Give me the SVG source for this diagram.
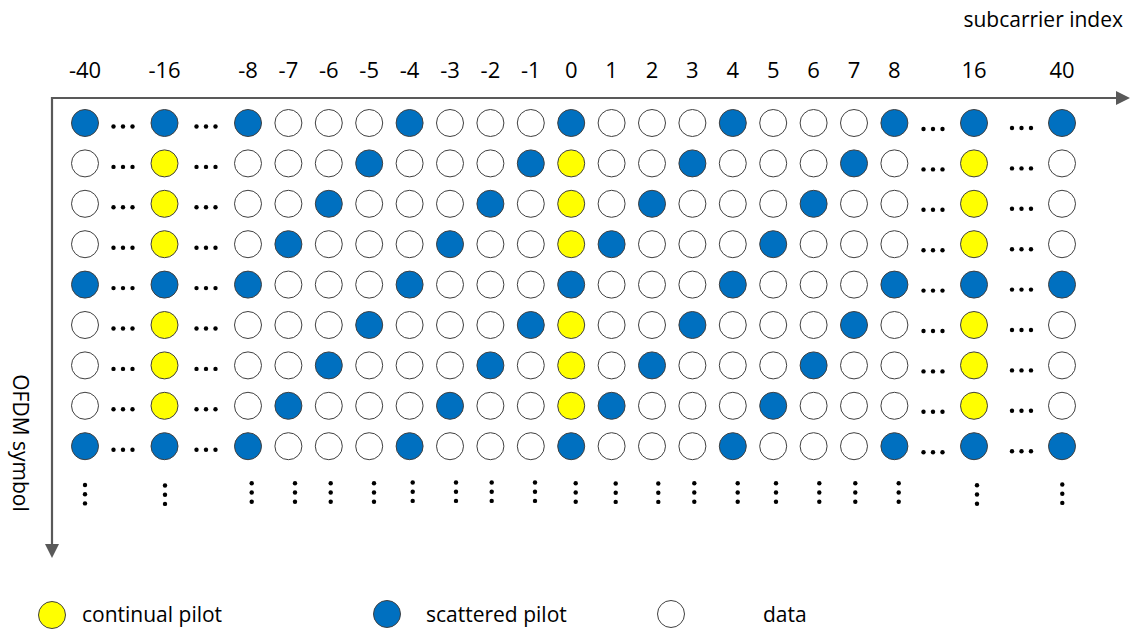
<svg xmlns="http://www.w3.org/2000/svg" width="1130" height="631" viewBox="0 0 1130 631">
<style>
.b{fill:#0070C0;stroke:#404040;stroke-width:1}
.y{fill:#FFFF00;stroke:#404040;stroke-width:1}
.w{fill:#FFFFFF;stroke:#404040;stroke-width:1}
.d{fill:#000}
.ax{stroke:#595959;stroke-width:2.2;fill:none}
.ah{fill:#595959}
text{font-family:"Open Sans","Noto Sans",sans-serif;fill:#000}
.lbl{font-size:22px;text-anchor:middle}
.leg{font-size:21px}
</style>
<rect width="1130" height="631" fill="#fff"/>
<g id="axes">
<line class="ax" x1="52" y1="98" x2="1118" y2="98"/>
<polygon class="ah" points="1130,98 1116,91 1116,105"/>
<line class="ax" x1="52" y1="97" x2="52" y2="546"/>
<polygon class="ah" points="52,558 45,544 59,544"/>
</g>
<g id="axis-labels">
<text x="1123" y="27" style="font-size:21px;text-anchor:end">subcarrier index</text>
<text transform="translate(13,443) rotate(90)" style="font-size:21px;text-anchor:middle">OFDM symbol</text>
</g>
<g id="column-labels" class="lbl">
<text class="lbl" x="85" y="78">-40</text>
<text class="lbl" x="164.5" y="78">-16</text>
<text class="lbl" x="248" y="78">-8</text>
<text class="lbl" x="288.4" y="78">-7</text>
<text class="lbl" x="328.8" y="78">-6</text>
<text class="lbl" x="369.2" y="78">-5</text>
<text class="lbl" x="409.6" y="78">-4</text>
<text class="lbl" x="450" y="78">-3</text>
<text class="lbl" x="490.4" y="78">-2</text>
<text class="lbl" x="530.8" y="78">-1</text>
<text class="lbl" x="571.2" y="78">0</text>
<text class="lbl" x="611.6" y="78">1</text>
<text class="lbl" x="652" y="78">2</text>
<text class="lbl" x="692.4" y="78">3</text>
<text class="lbl" x="732.8" y="78">4</text>
<text class="lbl" x="773.2" y="78">5</text>
<text class="lbl" x="813.6" y="78">6</text>
<text class="lbl" x="854" y="78">7</text>
<text class="lbl" x="894.4" y="78">8</text>
<text class="lbl" x="974" y="78">16</text>
<text class="lbl" x="1062" y="78">40</text>
</g>
<defs>
<g id="ell">
<circle class="d" cx="113.5" cy="3.5" r="2.2"/><circle class="d" cx="123" cy="3.5" r="2.2"/><circle class="d" cx="132.5" cy="3.5" r="2.2"/>
<circle class="d" cx="196.5" cy="3.5" r="2.2"/><circle class="d" cx="206" cy="3.5" r="2.2"/><circle class="d" cx="215.5" cy="3.5" r="2.2"/>
<circle class="d" cx="923.5" cy="6" r="2.2"/><circle class="d" cx="933" cy="6" r="2.2"/><circle class="d" cx="942.5" cy="6" r="2.2"/>
<circle class="d" cx="1012" cy="5" r="2.2"/><circle class="d" cx="1021.5" cy="5" r="2.2"/><circle class="d" cx="1031" cy="5" r="2.2"/>
</g>
<g id="rowA">
<circle class="b" cx="85" cy="0" r="13.5"/><circle class="b" cx="164.5" cy="0" r="13.5"/>
<circle class="b" cx="248" cy="0" r="13.5"/><circle class="w" cx="288.4" cy="0" r="13.5"/><circle class="w" cx="328.8" cy="0" r="13.5"/><circle class="w" cx="369.2" cy="0" r="13.5"/>
<circle class="b" cx="409.6" cy="0" r="13.5"/><circle class="w" cx="450" cy="0" r="13.5"/><circle class="w" cx="490.4" cy="0" r="13.5"/><circle class="w" cx="530.8" cy="0" r="13.5"/>
<circle class="b" cx="571.2" cy="0" r="13.5"/><circle class="w" cx="611.6" cy="0" r="13.5"/><circle class="w" cx="652" cy="0" r="13.5"/><circle class="w" cx="692.4" cy="0" r="13.5"/>
<circle class="b" cx="732.8" cy="0" r="13.5"/><circle class="w" cx="773.2" cy="0" r="13.5"/><circle class="w" cx="813.6" cy="0" r="13.5"/><circle class="w" cx="854" cy="0" r="13.5"/>
<circle class="b" cx="894.4" cy="0" r="13.5"/><circle class="b" cx="974" cy="0" r="13.5"/><circle class="b" cx="1062" cy="0" r="13.5"/>
<use href="#ell"/>
</g>
<g id="rowB">
<circle class="w" cx="85" cy="0" r="13.5"/><circle class="y" cx="164.5" cy="0" r="13.5"/>
<circle class="w" cx="248" cy="0" r="13.5"/><circle class="w" cx="288.4" cy="0" r="13.5"/><circle class="w" cx="328.8" cy="0" r="13.5"/><circle class="b" cx="369.2" cy="0" r="13.5"/>
<circle class="w" cx="409.6" cy="0" r="13.5"/><circle class="w" cx="450" cy="0" r="13.5"/><circle class="w" cx="490.4" cy="0" r="13.5"/><circle class="b" cx="530.8" cy="0" r="13.5"/>
<circle class="y" cx="571.2" cy="0" r="13.5"/><circle class="w" cx="611.6" cy="0" r="13.5"/><circle class="w" cx="652" cy="0" r="13.5"/><circle class="b" cx="692.4" cy="0" r="13.5"/>
<circle class="w" cx="732.8" cy="0" r="13.5"/><circle class="w" cx="773.2" cy="0" r="13.5"/><circle class="w" cx="813.6" cy="0" r="13.5"/><circle class="b" cx="854" cy="0" r="13.5"/>
<circle class="w" cx="894.4" cy="0" r="13.5"/><circle class="y" cx="974" cy="0" r="13.5"/><circle class="w" cx="1062" cy="0" r="13.5"/>
<use href="#ell"/>
</g>
<g id="rowC">
<circle class="w" cx="85" cy="0" r="13.5"/><circle class="y" cx="164.5" cy="0" r="13.5"/>
<circle class="w" cx="248" cy="0" r="13.5"/><circle class="w" cx="288.4" cy="0" r="13.5"/><circle class="b" cx="328.8" cy="0" r="13.5"/><circle class="w" cx="369.2" cy="0" r="13.5"/>
<circle class="w" cx="409.6" cy="0" r="13.5"/><circle class="w" cx="450" cy="0" r="13.5"/><circle class="b" cx="490.4" cy="0" r="13.5"/><circle class="w" cx="530.8" cy="0" r="13.5"/>
<circle class="y" cx="571.2" cy="0" r="13.5"/><circle class="w" cx="611.6" cy="0" r="13.5"/><circle class="b" cx="652" cy="0" r="13.5"/><circle class="w" cx="692.4" cy="0" r="13.5"/>
<circle class="w" cx="732.8" cy="0" r="13.5"/><circle class="w" cx="773.2" cy="0" r="13.5"/><circle class="b" cx="813.6" cy="0" r="13.5"/><circle class="w" cx="854" cy="0" r="13.5"/>
<circle class="w" cx="894.4" cy="0" r="13.5"/><circle class="y" cx="974" cy="0" r="13.5"/><circle class="w" cx="1062" cy="0" r="13.5"/>
<use href="#ell"/>
</g>
<g id="rowD">
<circle class="w" cx="85" cy="0" r="13.5"/><circle class="y" cx="164.5" cy="0" r="13.5"/>
<circle class="w" cx="248" cy="0" r="13.5"/><circle class="b" cx="288.4" cy="0" r="13.5"/><circle class="w" cx="328.8" cy="0" r="13.5"/><circle class="w" cx="369.2" cy="0" r="13.5"/>
<circle class="w" cx="409.6" cy="0" r="13.5"/><circle class="b" cx="450" cy="0" r="13.5"/><circle class="w" cx="490.4" cy="0" r="13.5"/><circle class="w" cx="530.8" cy="0" r="13.5"/>
<circle class="y" cx="571.2" cy="0" r="13.5"/><circle class="b" cx="611.6" cy="0" r="13.5"/><circle class="w" cx="652" cy="0" r="13.5"/><circle class="w" cx="692.4" cy="0" r="13.5"/>
<circle class="w" cx="732.8" cy="0" r="13.5"/><circle class="b" cx="773.2" cy="0" r="13.5"/><circle class="w" cx="813.6" cy="0" r="13.5"/><circle class="w" cx="854" cy="0" r="13.5"/>
<circle class="w" cx="894.4" cy="0" r="13.5"/><circle class="y" cx="974" cy="0" r="13.5"/><circle class="w" cx="1062" cy="0" r="13.5"/>
<use href="#ell"/>
</g>
<g id="vd"><circle class="d" cx="0" cy="0" r="2.2"/><circle class="d" cx="0" cy="9.2" r="2.2"/><circle class="d" cx="0" cy="18.4" r="2.2"/></g>
</defs>
<g id="grid">
<use id="row1" href="#rowA" y="123"/>
<use id="row2" href="#rowB" y="163.4"/>
<use id="row3" href="#rowC" y="203.8"/>
<use id="row4" href="#rowD" y="244.2"/>
<use id="row5" href="#rowA" y="284.6"/>
<use id="row6" href="#rowB" y="325"/>
<use id="row7" href="#rowC" y="365.4"/>
<use id="row8" href="#rowD" y="405.8"/>
<use id="row9" href="#rowA" y="446.2"/>
</g>
<g id="vertical-dots">
<use href="#vd" x="85" y="485"/>
<use href="#vd" x="165" y="485.5"/>
<use href="#vd" x="251.7" y="483.3"/>
<use href="#vd" x="295" y="483.3"/>
<use href="#vd" x="330.7" y="483.3"/>
<use href="#vd" x="374" y="483.3"/>
<use href="#vd" x="412.7" y="482.5"/>
<use href="#vd" x="456" y="482.5"/>
<use href="#vd" x="491.7" y="482.5"/>
<use href="#vd" x="535" y="482.5"/>
<use href="#vd" x="575.7" y="483.3"/>
<use href="#vd" x="615.7" y="483.5"/>
<use href="#vd" x="658.3" y="483.5"/>
<use href="#vd" x="694.3" y="483.3"/>
<use href="#vd" x="737.7" y="483.3"/>
<use href="#vd" x="776" y="483.3"/>
<use href="#vd" x="819.3" y="483.3"/>
<use href="#vd" x="855.3" y="483.3"/>
<use href="#vd" x="898.7" y="483.3"/>
<use href="#vd" x="977" y="485.3"/>
<use href="#vd" x="1062.3" y="484.5"/>
</g>
<g id="legend-continual">
<circle class="y" cx="52" cy="615" r="13.5"/>
<text class="leg" x="82" y="622">continual pilot</text>
</g>
<g id="legend-scattered">
<circle class="b" cx="387" cy="614" r="13.5"/>
<text class="leg" x="426" y="622">scattered pilot</text>
</g>
<g id="legend-data">
<circle class="w" cx="671" cy="614" r="13.5"/>
<text class="leg" x="763" y="622">data</text>
</g>
</svg>
